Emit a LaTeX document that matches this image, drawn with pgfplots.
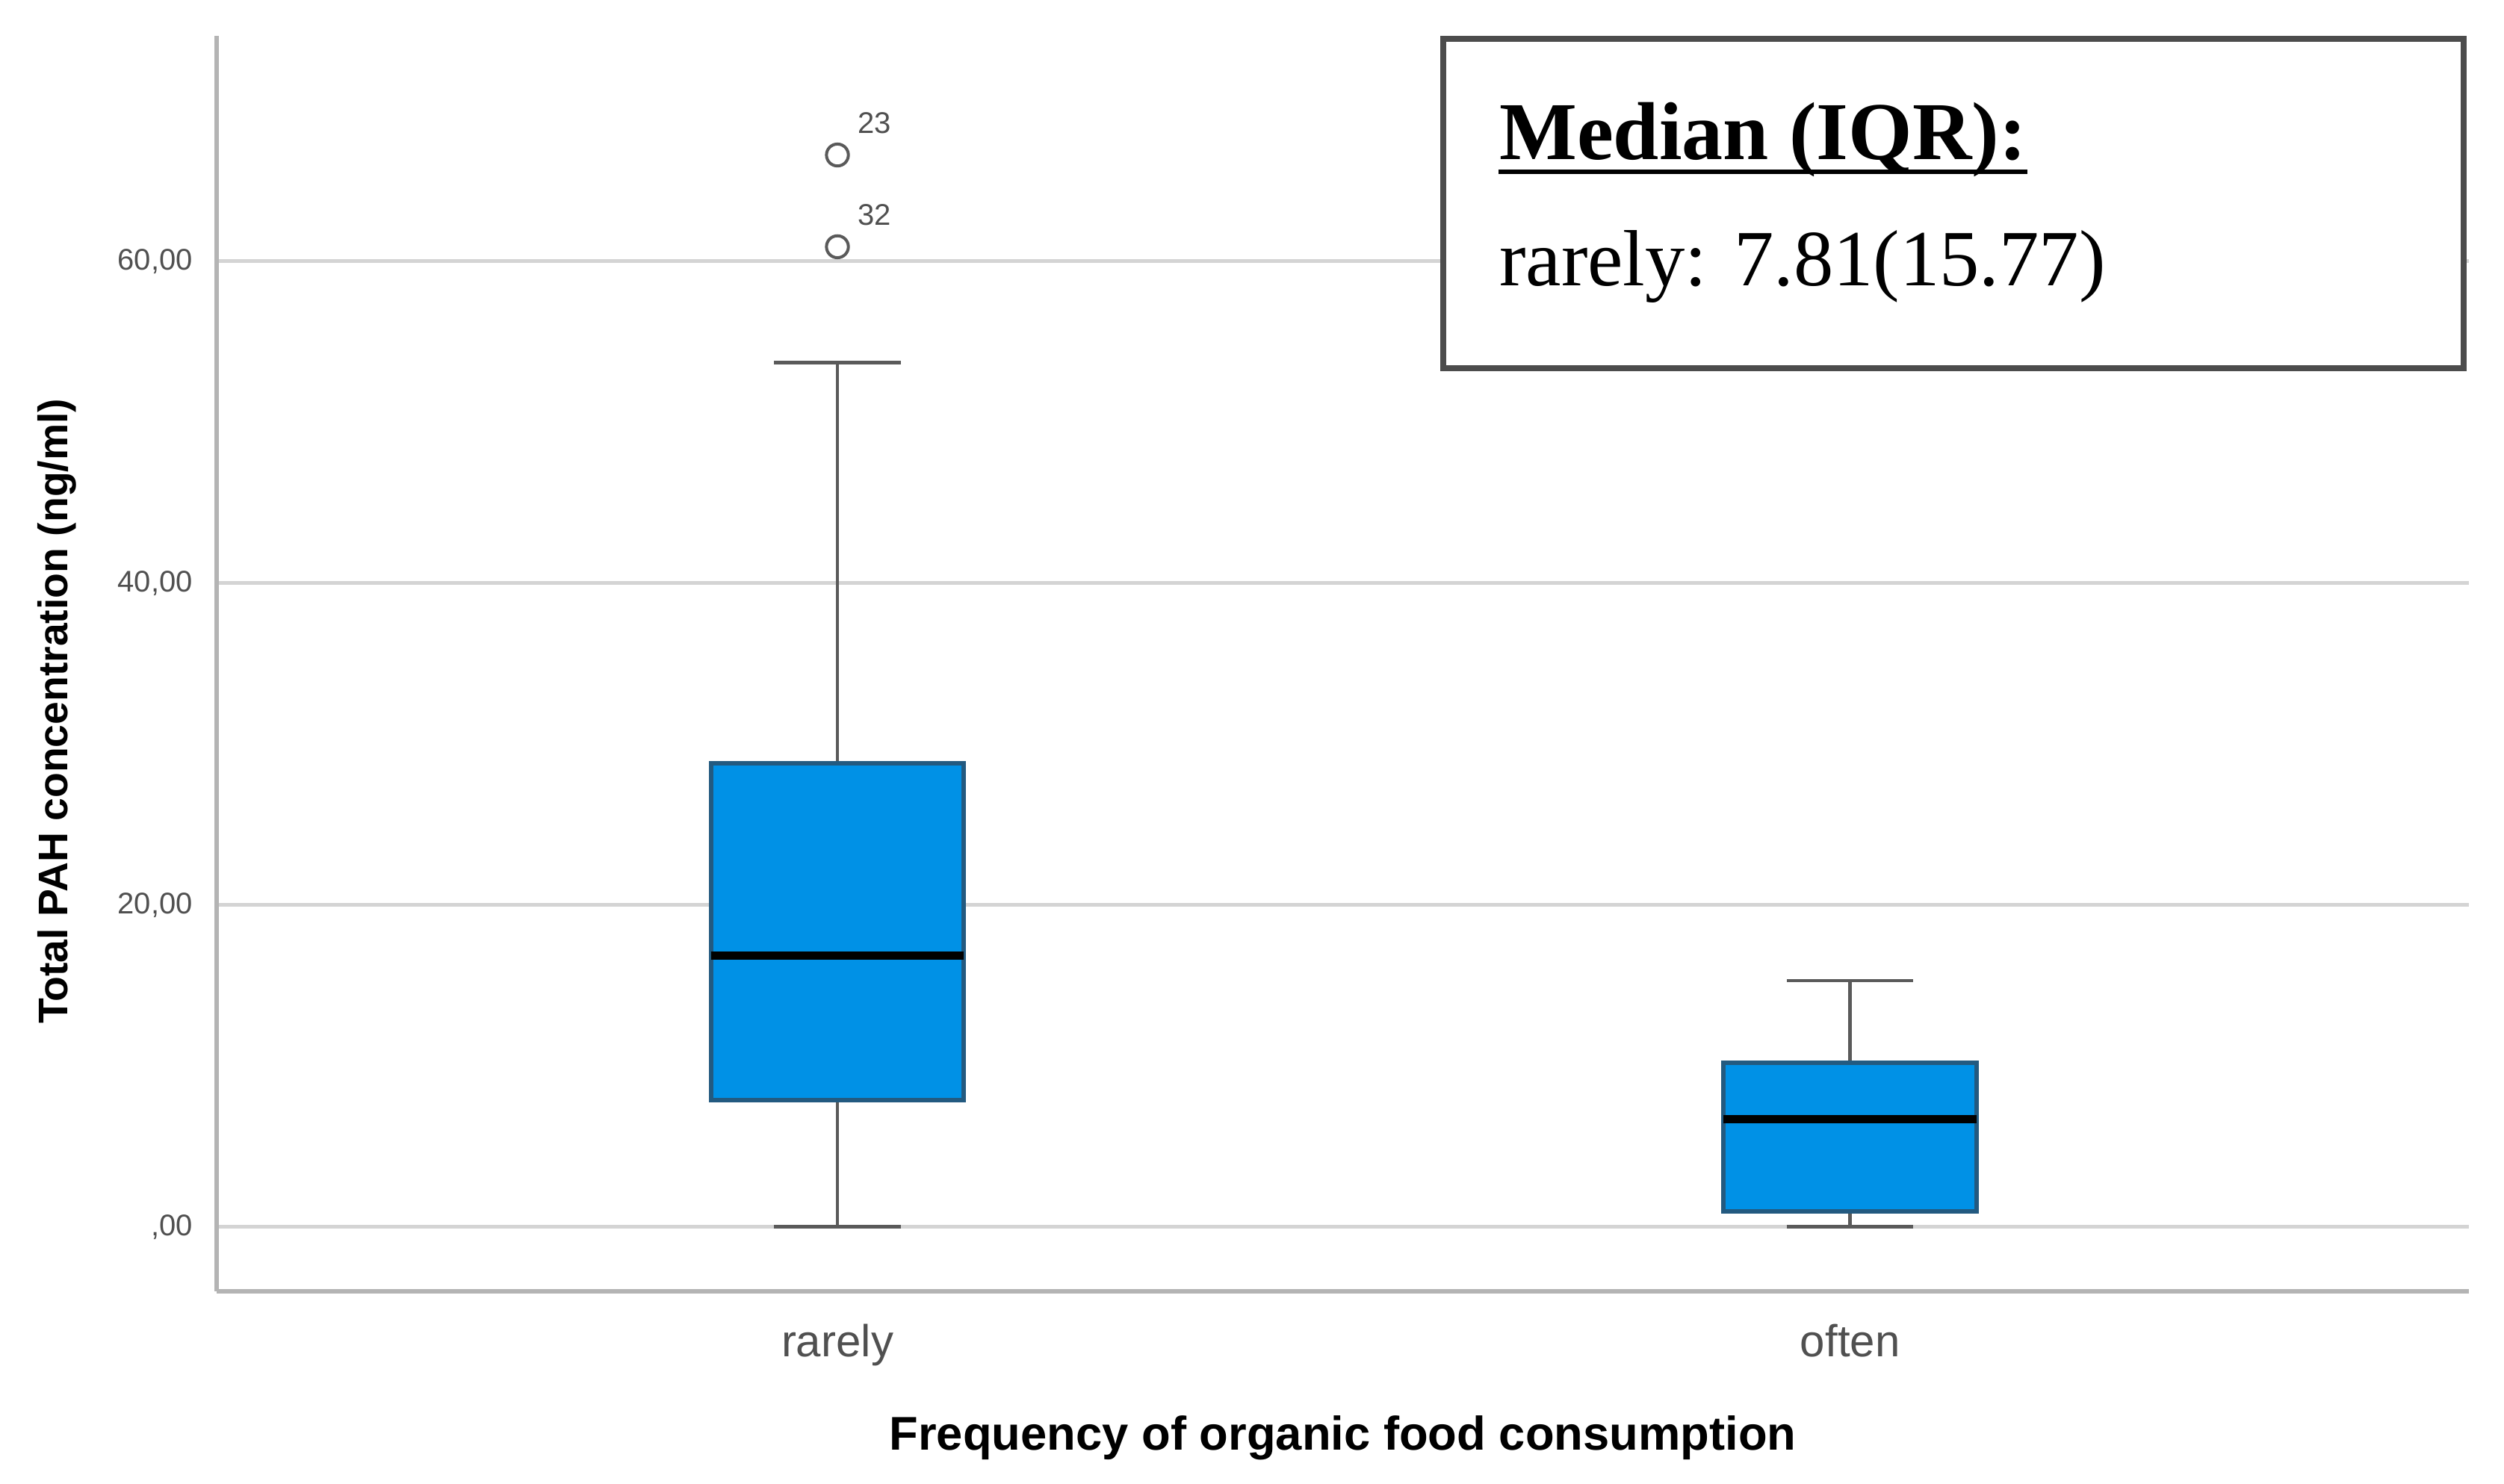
\documentclass[border=0pt]{standalone}
\usepackage{fontspec}
\setmainfont{Liberation Sans}
\newfontfamily\boxfont{Liberation Serif}
\usepackage{pgfplots}
\pgfplotsset{compat=1.18}
\usepgfplotslibrary{statistics}
\definecolor{boxblue}{HTML}{0091E6}
\definecolor{boxedge}{HTML}{235A80}
\definecolor{whisk}{HTML}{5A5A5A}
\definecolor{axgray}{HTML}{B4B4B4}
\definecolor{gridgray}{HTML}{D4D4D4}
\definecolor{labgray}{HTML}{505050}

\begin{document}
\begin{tikzpicture}
\useasboundingbox (-43.5pt,-38.55pt) rectangle (459.3pt,259.35pt);
\begin{axis}[
  at={(0,0)}, anchor=south west,
  scale only axis, width=452.25pt, height=252.15pt,
  xmin=0.387, xmax=2.611, ymin=-4, ymax=74,
  axis lines=left, axis line style={axgray, line width=0.9pt, -},
  xtick={1,2}, xticklabels={rarely,often},
  ytick={0,20,40,60}, yticklabels={{,00},{20,00},{40,00},{60,00}},
  major tick length=0pt,
  ymajorgrids, grid style={gridgray, line width=0.8pt},
  yticklabel style={font=\fontsize{6}{7}\selectfont, text=labgray, xshift=-1.3pt},
  xticklabel style={font=\fontsize{9}{11}\selectfont, text=labgray, yshift=-3pt},
  xlabel={Frequency of organic food consumption},
  ylabel={Total PAH concentration (ng/ml)},
  xlabel style={at={(axis description cs:0.5,-0.1166)}, anchor=center,
    font=\bfseries\fontsize{9.5}{11}\selectfont},
  ylabel style={at={(axis description cs:-0.0708,0.462)}, anchor=center,
    font=\bfseries\fontsize{8.3}{10}\selectfont},
  clip=false,
  boxplot/draw direction=y,
]
% rarely
\addplot[boxplot prepared={draw position=1, median=16.85, upper quartile=28.8,
    lower quartile=7.9, upper whisker=53.7, lower whisker=0,
    box extend=0.25, whisker extend=0.125},
  draw=whisk, line width=0.7pt, mark=o, mark size=2.2pt,
  mark options={draw=whisk, line width=0.6pt, fill=white},
  boxplot/every box/.style={fill=boxblue, draw=boxedge, line width=0.9pt},
  boxplot/every median/.style={draw=black, line width=1.6pt}]
  coordinates {(1,66.6) (1,60.9)};
% often
\addplot[boxplot prepared={draw position=2, median=6.7, upper quartile=10.2,
    lower quartile=0.95, upper whisker=15.3, lower whisker=0,
    box extend=0.25, whisker extend=0.125},
  draw=whisk, line width=0.7pt,
  boxplot/every box/.style={fill=boxblue, draw=boxedge, line width=0.9pt},
  boxplot/every median/.style={draw=black, line width=1.6pt}]
  coordinates {};
% outlier case numbers
\addplot[draw=none, mark=none, nodes near coords, point meta=explicit symbolic,
  nodes near coords style={anchor=west, xshift=0.6pt, yshift=6.4pt,
    font=\fontsize{6}{7}\selectfont, text=labgray}]
  coordinates {(1,66.6) [23] (1,60.9) [32]};

\draw[fill=white, draw=black!70, line width=1.1pt]
  (rel axis cs:0.5446,0.7353) rectangle (rel axis cs:0.9977,0.9976);
\node[anchor=base west, inner sep=0pt, font=\boxfont\bfseries\fontsize{16.5}{19}\selectfont]
  (med) at (rel axis cs:0.5691,0.9013) {Median (IQR):};
\draw[line width=0.8pt] ([yshift=-2.4pt]med.base west) -- ([yshift=-2.4pt]med.base east);
\node[anchor=base west, inner sep=0pt, font=\boxfont\fontsize{16}{19}\selectfont]
  at (rel axis cs:0.5691,0.8013) {rarely: 7.81(15.77)};
\end{axis}
\end{tikzpicture}
\end{document}
